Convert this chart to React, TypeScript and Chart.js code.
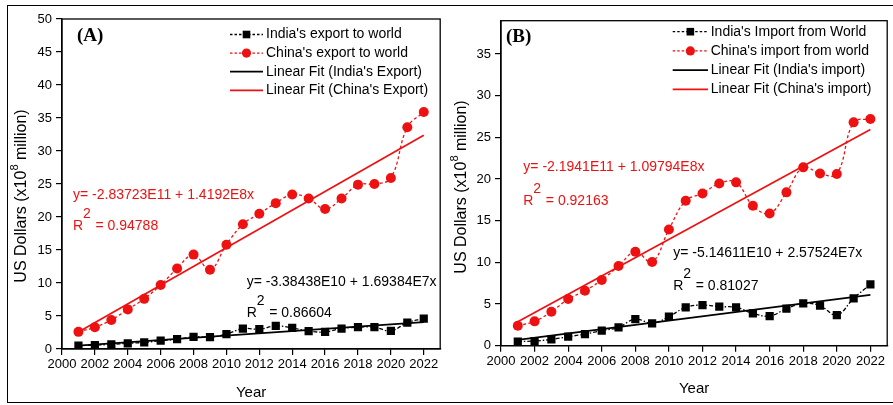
import React, { useEffect, useRef } from "react";
import { Chart, registerables } from "chart.js";

Chart.register(...registerables);

// ---------- data ----------
const years = [2001, 2002, 2003, 2004, 2005, 2006, 2007, 2008, 2009, 2010, 2011, 2012, 2013, 2014, 2015, 2016, 2017, 2018, 2019, 2020, 2021, 2022];

const indiaExport = [0.5, 0.6, 0.7, 0.86, 1.0, 1.26, 1.5, 1.85, 1.8, 2.25, 3.1, 3.0, 3.5, 3.2, 2.7, 2.6, 3.1, 3.3, 3.3, 2.75, 4.0, 4.6];
const chinaExport = [2.6, 3.3, 4.4, 6.0, 7.6, 9.7, 12.2, 14.3, 12.0, 15.8, 18.9, 20.5, 22.1, 23.4, 22.8, 21.2, 22.8, 24.9, 25.0, 25.9, 33.6, 35.9];
const indiaImport = [0.5, 0.56, 0.76, 1.08, 1.4, 1.8, 2.2, 3.2, 2.68, 3.48, 4.6, 4.88, 4.68, 4.6, 3.88, 3.56, 4.44, 5.08, 4.8, 3.68, 5.68, 7.36];
const chinaImport = [2.4, 2.92, 4.08, 5.6, 6.6, 7.88, 9.56, 11.27, 10.04, 13.95, 17.4, 18.27, 19.47, 19.6, 16.8, 15.87, 18.4, 21.4, 20.67, 20.6, 26.8, 27.2];

const fitYears = [2001, 2022];
const indiaExportFit = [0.5, 4.06];
const chinaExportFit = [2.59, 32.39];
const indiaImportFit = [0.7, 6.1];
const chinaImportFit = [2.88, 25.93];

const xRange = [2000, 2023];
const xStep = 2;
const yRangeA = [0, 50];
const yRangeB = [0, 39];
const yStep = 5;

const legendA = ["India's export to world", "China's export to world", "Linear Fit (India's Export)", "Linear Fit (China's Export)"];
const legendB = ["India's Import from World", "China's import from world", "Linear Fit (India's import)", "Linear Fit (China's import)"];

// ---------- styling ----------
const RED = "#ee1111";
const BLACK = "#000000";
const FONT = '"Liberation Sans", Arial, sans-serif';

const pts = (xs: number[], ys: number[]) => xs.map((x, i) => ({ x, y: ys[i] }));

function makeDatasets(labels: string[], india: number[], china: number[], iFit: number[], cFit: number[]) {
  return [
    {
      label: labels[0], data: pts(years, india), borderColor: BLACK, backgroundColor: BLACK,
      borderWidth: 1.3, borderDash: [4, 2, 1.5, 2], tension: 0.4, pointStyle: "rect",
      pointRadius: 5.8, pointBorderWidth: 0, pointBackgroundColor: BLACK, kind: "series",
    },
    {
      label: labels[1], data: pts(years, china), borderColor: RED, backgroundColor: RED,
      borderWidth: 1.3, borderDash: [3, 2.5], tension: 0.4, pointStyle: "circle",
      pointRadius: 5, pointBorderWidth: 0, pointBackgroundColor: RED, kind: "series",
    },
    {
      label: labels[2], data: pts(fitYears, iFit), borderColor: BLACK, borderWidth: 1.7,
      pointRadius: 0, tension: 0, kind: "fit",
    },
    {
      label: labels[3], data: pts(fitYears, cFit), borderColor: RED, borderWidth: 1.7,
      pointRadius: 0, tension: 0, kind: "fit",
    },
  ];
}

const decorPlugin = {
  id: "decor",
  afterDraw(chart: any, _args: any, opts: any) {
    const { ctx, chartArea: ca, scales } = chart;
    const xs = scales.x, ys = scales.y;
    ctx.save();
    // box
    ctx.strokeStyle = "#000";
    ctx.lineWidth = 1.3;
    ctx.strokeRect(ca.left, ca.top, ca.right - ca.left, ca.bottom - ca.top);

    // panel label
    ctx.fillStyle = "#000";
    ctx.font = 'bold 19px "Liberation Serif", "Times New Roman", serif';
    ctx.textBaseline = "middle";
    ctx.textAlign = "left";
    ctx.fillText(opts.panel, opts.panelPos[0], opts.panelPos[1]);

    // legend
    ctx.font = "14px " + FONT;
    const lg = opts.legend;
    chart.data.datasets.forEach((ds: any, i: number) => {
      const y = lg.y + i * lg.gap;
      ctx.save();
      ctx.strokeStyle = ds.borderColor;
      ctx.lineWidth = ds.kind === "fit" ? 1.7 : 1.3;
      ctx.setLineDash(ds.kind === "fit" ? [] : [2.5, 2]);
      ctx.beginPath();
      ctx.moveTo(lg.x1, y);
      ctx.lineTo(lg.x2, y);
      ctx.stroke();
      ctx.setLineDash([]);
      if (ds.kind === "series") {
        const cx = (lg.x1 + lg.x2) / 2;
        ctx.fillStyle = ds.borderColor;
        if (ds.pointStyle === "rect") {
          ctx.fillRect(cx - 3.8, y - 3.8, 7.6, 7.6);
        } else {
          ctx.beginPath();
          ctx.arc(cx, y, 4.6, 0, Math.PI * 2);
          ctx.fill();
        }
      }
      ctx.restore();
      ctx.fillStyle = "#000";
      ctx.fillText(ds.label, lg.tx, y);
    });

    // annotations (equations and R^2)
    for (const a of opts.notes) {
      const px = xs.getPixelForValue(a.x);
      const eqY = ys.getPixelForValue(a.y);
      const rY = ys.getPixelForValue(a.ry);
      ctx.fillStyle = a.color;
      ctx.font = "14px " + FONT;
      ctx.fillText(a.eq, px, eqY);
      ctx.fillText("R", px, rY);
      ctx.fillText("2", px + 10, rY - 12);
      ctx.fillText("= " + a.r2, px + 22.5, rY);
    }

    // y axis title with superscript
    const t = opts.yTitle;
    ctx.save();
    ctx.translate(t.x, t.y);
    ctx.rotate(-Math.PI / 2);
    ctx.fillStyle = "#000";
    const big = "16px " + FONT, small = "11px " + FONT;
    const p1 = "US Dollars (x10", p2 = "8", p3 = " million)";
    ctx.font = big;
    const w1 = ctx.measureText(p1).width, w3 = ctx.measureText(p3).width;
    ctx.font = small;
    const w2 = ctx.measureText(p2).width;
    let sx = -(w1 + w2 + w3) / 2;
    ctx.font = big;
    ctx.fillText(p1, sx, 0);
    sx += w1;
    ctx.font = small;
    ctx.fillText(p2, sx, -7);
    sx += w2;
    ctx.font = big;
    ctx.fillText(p3, sx, 0);
    ctx.restore();

    ctx.restore();
  },
};

function buildConfig(p: any) {
  return {
    type: "line",
    data: { datasets: p.datasets },
    plugins: [decorPlugin],
    options: {
      animation: false,
      responsive: false,
      devicePixelRatio: 1,
      layout: { padding: { left: 0, top: p.top, right: p.right, bottom: 0 } },
      plugins: {
        legend: { display: false },
        tooltip: { enabled: false },
        decor: p.decor,
      },
      scales: {
        x: {
          type: "linear",
          min: xRange[0],
          max: xRange[1],
          afterFit: (s: any) => { s.height = p.xHeight; },
          ticks: {
            stepSize: xStep, includeBounds: false, color: "#000", padding: 2,
            font: { family: FONT, size: 13 }, maxRotation: 0, autoSkip: false,
            callback: (v: number) => String(v),
          },
          grid: { display: true, drawOnChartArea: false, drawTicks: true, tickLength: 6, color: "#000", lineWidth: 1.2 },
          border: { display: true, color: "#000", width: 1.3 },
          title: { display: true, text: "Year", color: "#000", font: { family: FONT, size: 15 }, padding: { top: 0, bottom: p.yearPad } },
        },
        y: {
          type: "linear",
          min: p.yRange[0],
          max: p.yRange[1],
          afterFit: (s: any) => { s.width = p.yWidth; },
          ticks: {
            stepSize: yStep, includeBounds: false, color: "#000", padding: 4,
            font: { family: FONT, size: 13 }, autoSkip: false,
          },
          grid: { display: true, drawOnChartArea: false, drawTicks: true, tickLength: 6, color: "#000", lineWidth: 1.2 },
          border: { display: true, color: "#000", width: 1.3 },
        },
      },
    },
  };
}

const panelA = {
  datasets: makeDatasets(legendA, indiaExport, chinaExport, indiaExportFit, chinaExportFit),
  yRange: yRangeA,
  top: 19, right: 5, xHeight: 56, yWidth: 62, yearPad: 3,
  decor: {
    panel: "(A)", panelPos: [77, 36],
    legend: { x1: 230, x2: 263, tx: 266, y: 34.5, gap: 18.6 },
    notes: [
      { x: 2000.67, y: 23.3, ry: 18.56, color: RED, eq: "y= -2.83723E11 + 1.4192E8x", r2: "0.94788" },
      { x: 2011.23, y: 10.2, ry: 5.5, color: BLACK, eq: "y= -3.38438E10 + 1.69384E7x", r2: "0.86604" },
    ],
    yTitle: { x: 22, y: 196 },
  },
};

const panelB = {
  datasets: makeDatasets(legendB, indiaImport, chinaImport, indiaImportFit, chinaImportFit),
  yRange: yRangeB,
  top: 20.7, right: 5, xHeight: 59.3, yWidth: 55, yearPad: 7,
  decor: {
    panel: "(B)", panelPos: [60, 37],
    legend: { x1: 226.7, x2: 262, tx: 264.7, y: 31.7, gap: 19.2 },
    notes: [
      { x: 2001.33, y: 21.37, ry: 17.35, color: RED, eq: "y= -2.1941E11 + 1.09794E8x", r2: "0.92163" },
      { x: 2010.26, y: 11.12, ry: 7.16, color: BLACK, eq: "y= -5.14611E10 + 2.57524E7x", r2: "0.81027" },
    ],
    yTitle: { x: 15.5, y: 187 },
  },
};

function Panel({ cfg, left, width }: { cfg: any; left: number; width: number }) {
  const ref = useRef<HTMLCanvasElement | null>(null);
  useEffect(() => {
    if (!ref.current) return;
    const chart = new Chart(ref.current, buildConfig(cfg) as any);
    return () => chart.destroy();
  }, [cfg]);
  return (
    <canvas
      ref={ref}
      width={width}
      height={405}
      style={{ position: "absolute", left, top: 0, width, height: 405 }}
    />
  );
}

export default function App() {
  return (
    <div style={{ position: "fixed", left: 0, top: 0, width: 893, height: 405, background: "#fff", overflow: "hidden" }}>
      <div
        style={{
          position: "absolute", left: 7, top: 5, width: 892, height: 398,
          border: "1.5px solid #000", boxSizing: "border-box",
        }}
      />
      <Panel cfg={panelA} left={0} width={446} />
      <Panel cfg={panelB} left={446} width={447} />
    </div>
  );
}
